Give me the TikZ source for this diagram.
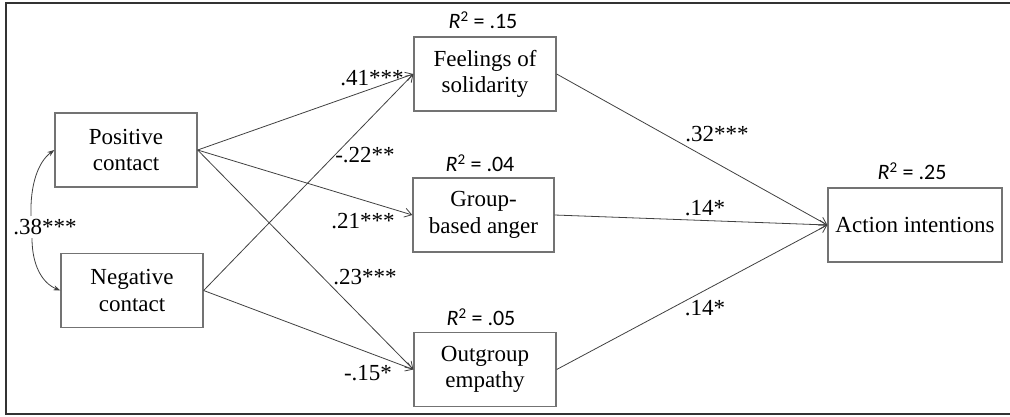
\documentclass[tikz,border=0pt]{standalone}
\usepackage{fontspec}
\setmainfont{Liberation Serif}
\newfontfamily\rfont{Carlito}
\usetikzlibrary{arrows.meta}
\newcommand{\rsqtext}[1]{\itshape R\upshape\textsuperscript{\fontsize{15}{15}\selectfont 2} = #1}
\begin{document}
\begin{tikzpicture}[x=1pt,y=-1pt,
  varbox/.style={draw=black!55, line width=1.3pt, minimum width=#1, minimum height=74pt, align=center, font=\fontsize{23}{26.5}\selectfont, inner sep=0pt},
  path/.style={draw=black!75, line width=0.8pt, -{Straight Barb[length=7pt,width=9pt,line width=0.8pt]}},
  coef/.style={font=\fontsize{23}{26}\selectfont, inner sep=1pt},
  rsq/.style={font=\rfont\fontsize{22}{24}\selectfont, inner sep=0pt}]
\useasboundingbox (0,0) rectangle (1010,416);
\draw[black!80, line width=2pt] (1012,2.5) -- (6,2.5) -- (6,413.5) -- (1012,413.5);
\node[varbox=142pt] (pos) at (126,150) {Positive\\contact};
\node[varbox=142pt] (neg) at (132,290.5) {Negative\\contact};
\node[varbox=142pt] (sol) at (485,74) {Feelings of\\solidarity};
\node[varbox=141pt] (ang) at (483.5,215) {Group-\\based anger};
\node[varbox=142pt] (emp) at (485,369.5) {Outgroup\\empathy};
\node[varbox=174pt] (act) at (915,225) {Action intentions};
\node[rsq] (r1) at (483,20) {\rsqtext{.15}};
\node[rsq] (r2) at (480,163) {\rsqtext{.04}};
\node[rsq] (r3) at (481,317) {\rsqtext{.05}};
\node[rsq] (r4) at (912,171) {\rsqtext{.25}};
\draw[path] (pos.east) -- (sol.west);
\draw[path] (pos.east) -- (ang.west);
\draw[path] (pos.east) -- (emp.west);
\draw[path] (neg.east) -- (sol.west);
\draw[path] (neg.east) -- (emp.west);
\draw[path] (sol.east) -- (act.west);
\draw[path] (ang.east) -- (act.west);
\draw[path] (emp.east) -- (act.west);
\node[coef] (c1) at (372,78) {.41***};
\node[coef] (c2) at (365,155) {-.22**};
\node[coef] (c3) at (363,221) {.21***};
\node[coef] (c4) at (365,277) {.23***};
\node[coef] (c5) at (368,373) {-.15*};
\node[coef] (c6) at (717,134) {.32***};
\node[coef] (c7) at (705,208) {.14*};
\node[coef] (c8) at (705,308) {.14*};
\node[coef] (cr) at (45,227) {.38***};
\draw[draw=black!75, line width=0.8pt, -{Stealth[length=7pt,width=5pt]}] (cr.north) ++(-14,-2) .. controls (30,185) and (38,162) .. (pos.west);
\draw[draw=black!75, line width=0.8pt, -{Stealth[length=7pt,width=5pt]}] (cr.south) ++(-13,2) .. controls (32,265) and (42,283) .. (neg.west);
\end{tikzpicture}
\end{document}
